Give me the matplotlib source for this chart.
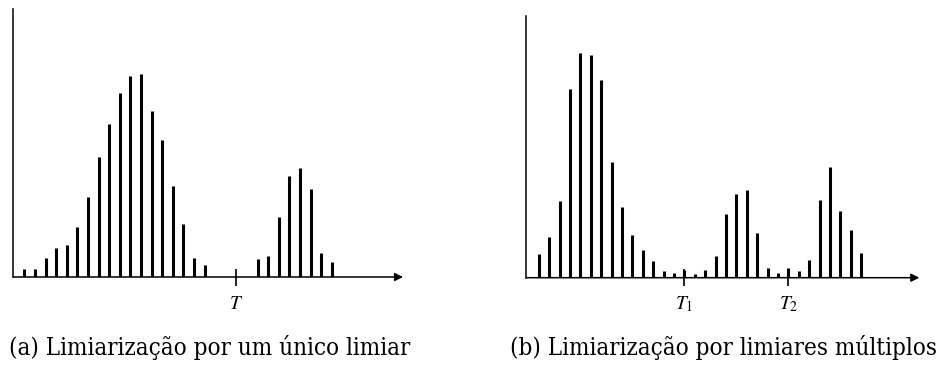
import matplotlib
matplotlib.use('Agg')
import matplotlib.pyplot as plt

# histogram (a): single threshold
hist_a = [8, 8, 19, 29, 32, 50, 80, 120, 153, 184, 201, 203, 166, 137, 91, 53, 19, 12,
          0, 0, 0, 0, 18, 21, 60, 101, 109, 88, 24, 15]
thr_a = [20]
thr_a_labels = ['$T$']

# histogram (b): multiple thresholds
hist_b = [24, 41, 77, 189, 225, 223, 198, 116, 71, 43, 28, 17, 7, 5, 8, 4, 8, 22,
          64, 84, 88, 45, 10, 5, 10, 7, 18, 78, 111, 67, 48, 25]
thr_b = [14, 24]
thr_b_labels = ['$T_1$', '$T_2$']

captions = ['(a) Limiarização por um único limiar', '(b) Limiarização por limiares múltiplos']

W, H = 942, 365
fig = plt.figure(figsize=(W / 100, H / 100), dpi=100)
plt.rcParams['mathtext.fontset'] = 'stix'


def panel(left, right, base, top, x0, dx, values, thr, labels):
    ax = fig.add_axes([left / W, (H - base) / H, (right - left) / W, (base - top) / H])
    ax.set_xlim((left - x0) / dx, (right - x0) / dx)
    ax.set_ylim(0, base - top)
    for s in ax.spines.values():
        s.set_visible(False)
    ax.set_xticks([])
    ax.set_yticks([])
    ax.patch.set_alpha(0)
    xs = list(range(len(values)))
    ax.vlines(xs, 0, values, colors='black', linewidth=2.2)
    xmin, xmax = ax.get_xlim()
    ax.plot([xmin, xmin], [0, base - top], color='black', lw=1.1, clip_on=False)
    ax.annotate('', xy=(xmax, 0), xytext=(xmin, 0),
                arrowprops=dict(arrowstyle='-|>', color='black', lw=1.1,
                                mutation_scale=12, shrinkA=0, shrinkB=0))
    for t, lab in zip(thr, labels):
        ax.vlines([t], -8.5, 8.5, colors='black', linewidth=1.2, clip_on=False)
        ax.annotate(lab, xy=(t, 0), xycoords='data', xytext=(0, -19),
                    textcoords='offset points', ha='center', va='center',
                    fontsize=14)
    return ax


panel(13.3, 403, 277, 9.3, 24.3, 10.6, hist_a, thr_a, thr_a_labels)
panel(526.3, 919.3, 277.7, 16, 538.7, 10.4, hist_b, thr_b, thr_b_labels)

fig.text(209.5 / W, 1 - 348 / H, captions[0], ha='center', va='center',
         fontsize=17.3, family='DejaVu Serif', stretch='condensed')
fig.text(724 / W, 1 - 348 / H, captions[1], ha='center', va='center',
         fontsize=17.3, family='DejaVu Serif', stretch='condensed')

fig.savefig('out.png', dpi=100, facecolor='white')
